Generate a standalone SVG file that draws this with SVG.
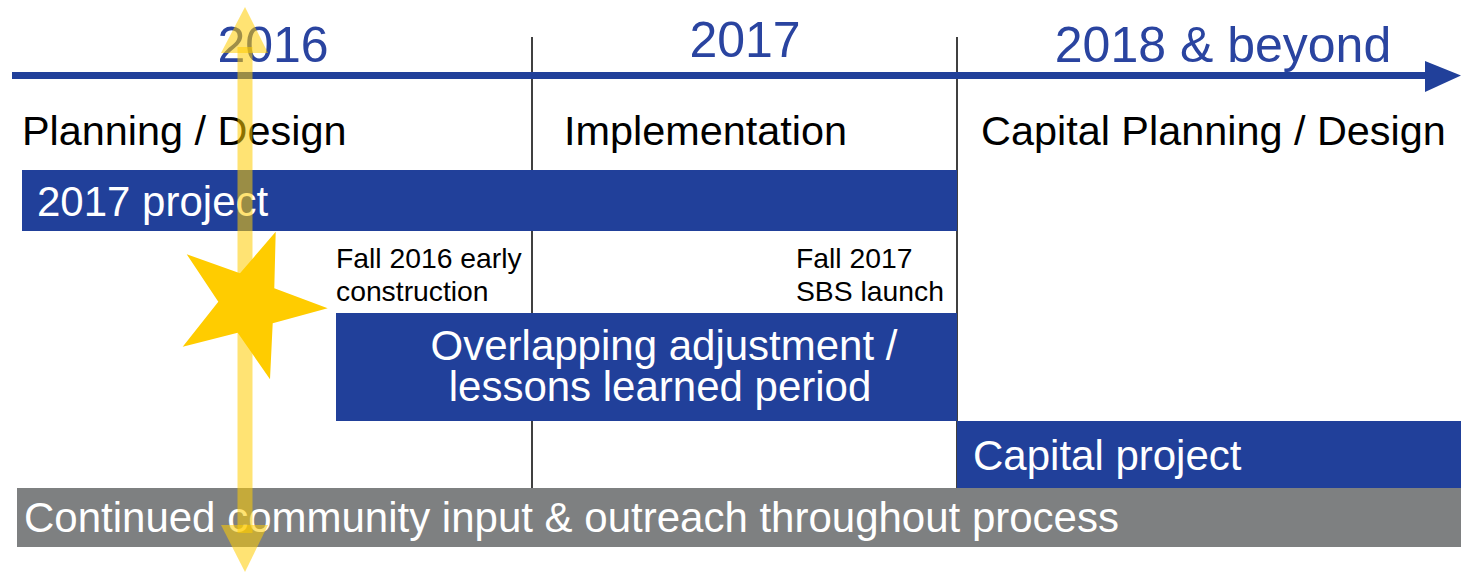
<svg xmlns="http://www.w3.org/2000/svg" width="1461" height="572" viewBox="0 0 1461 572">
<style>
.yr{font-family:"Liberation Sans",Arial,sans-serif;font-size:50px;fill:#2a44a0}
.ph{font-family:"Liberation Sans",Arial,sans-serif;font-size:41.4px;fill:#000}
.wt{font-family:"Liberation Sans",Arial,sans-serif;font-size:42px;fill:#fff}
.sm{font-family:"Liberation Sans",Arial,sans-serif;font-size:28.3px;fill:#000}
.bar{fill:#21409a}
.sep{stroke:#000;stroke-width:1.5}
.ya{fill:#ffcc00;fill-opacity:0.55}
</style>
<rect width="1461" height="572" fill="#fff"/>
<g id="separators">
<line class="sep" x1="532" y1="37" x2="532" y2="488"/>
<line class="sep" x1="957" y1="37" x2="957" y2="488"/>
</g>
<g id="timeline">
<rect x="12" y="72" width="1415" height="7" fill="#21409a"/>
<polygon points="1425,61 1461,75.5 1425,92" fill="#21409a"/>
<text class="yr" x="273" y="62" text-anchor="middle">2016</text>
<text class="yr" x="745" y="57" text-anchor="middle">2017</text>
<text class="yr" x="1223" y="62" text-anchor="middle">2018 &amp; beyond</text>
</g>
<g id="phases">
<text class="ph" x="22" y="145">Planning / Design</text>
<text class="ph" x="564" y="145">Implementation</text>
<text class="ph" x="981" y="145">Capital Planning / Design</text>
</g>
<g id="project2017">
<rect class="bar" x="22" y="170" width="935" height="61"/>
<text class="wt" x="37" y="216">2017 project</text>
</g>
<g id="fall2016">
<text class="sm" x="336" y="268">Fall 2016 early</text>
<text class="sm" x="336" y="301">construction</text>
</g>
<g id="fall2017">
<text class="sm" x="796" y="268">Fall 2017</text>
<text class="sm" x="796" y="301">SBS launch</text>
</g>
<g id="overlap">
<rect class="bar" x="336" y="313" width="621" height="108"/>
<text class="wt" x="664" y="360" text-anchor="middle">Overlapping adjustment /</text>
<text class="wt" x="660" y="401" text-anchor="middle">lessons learned period</text>
</g>
<g id="capital">
<rect class="bar" x="957" y="421" width="504" height="67"/>
<text class="wt" x="973" y="470">Capital project</text>
</g>
<g id="community">
<rect x="17" y="488" width="1444" height="59" fill="#7e8081"/>
<text class="wt" x="24" y="532">Continued community input &amp; outreach throughout process</text>
</g>
<g id="star">
<polygon fill="#ffcc00" points="275.7,231.7 274.3,288.3 327.7,308.3 272.7,323.3 270,379.3 237.7,332.7 182.7,346.7 218.3,301.7 186.7,254.3 240,273.3"/>
</g>
<g id="connectors">
<rect class="ya" x="237.5" y="47" width="15" height="486"/>
<polygon class="ya" points="245,7 268,53 221,53"/>
<polygon class="ya" points="221,525 268,525 245,572"/>
</g>
</svg>
